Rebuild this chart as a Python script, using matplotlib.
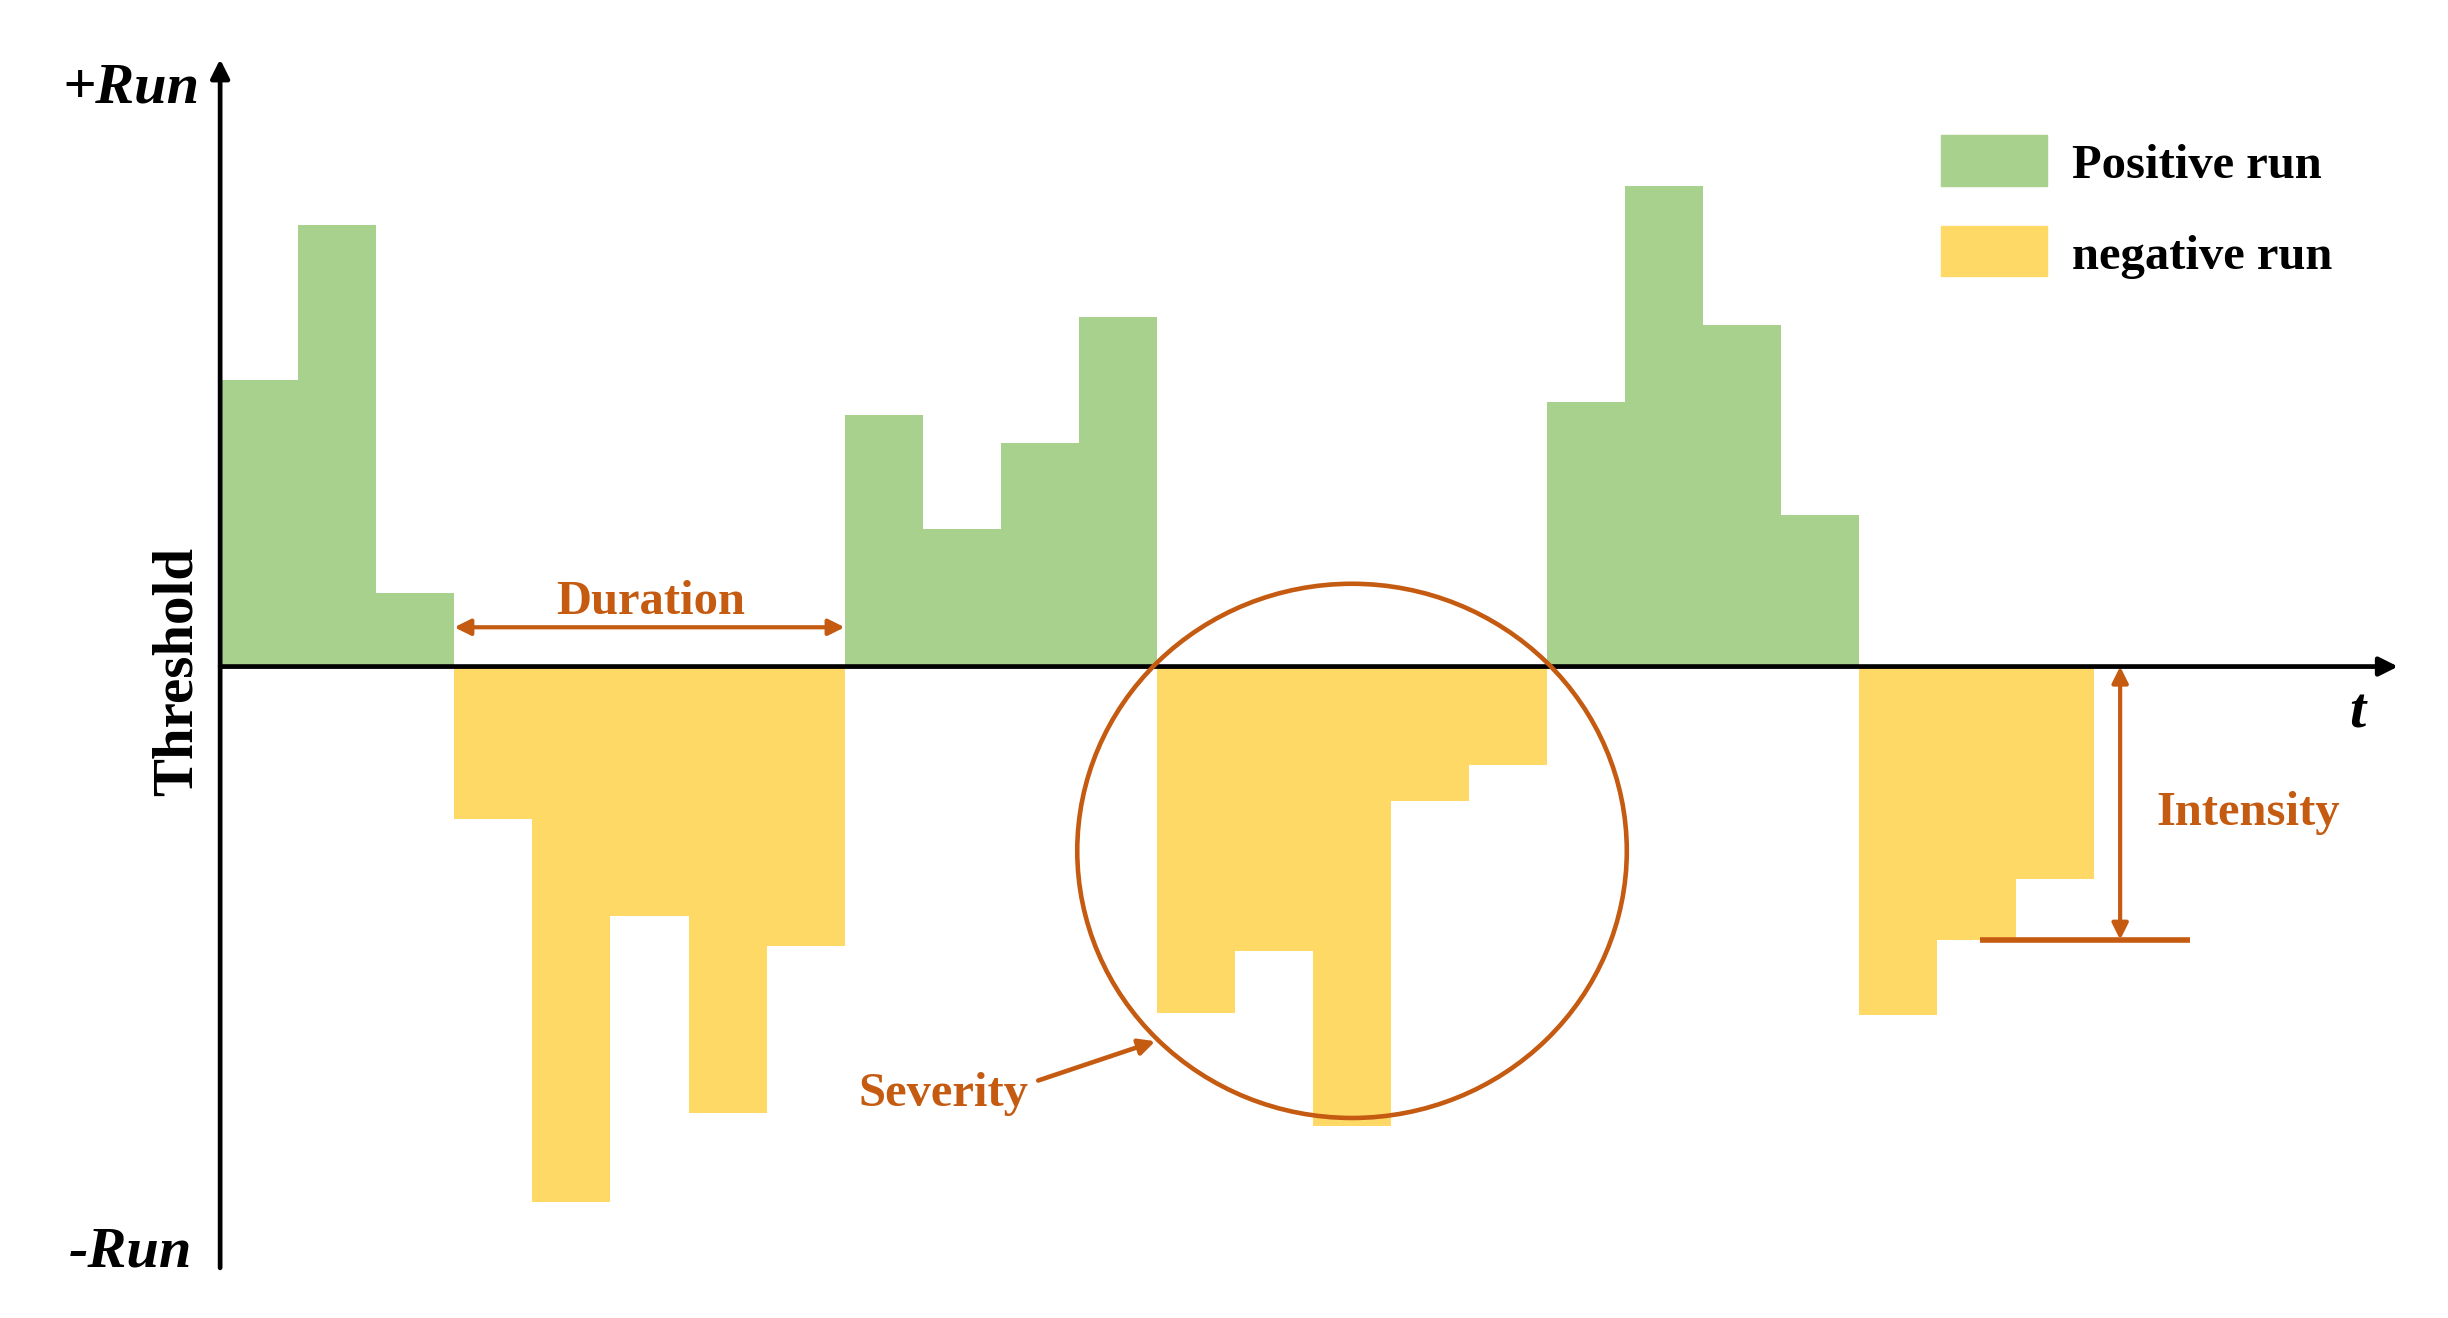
import matplotlib.pyplot as plt
from matplotlib.patches import Ellipse, Rectangle

# run values per time step (positive = above threshold, negative = below)
t_steps = list(range(24))
run_values = [4.75, 7.31, 1.21,
              -2.53, -8.86, -4.13, -7.39, -4.63,
              4.16, 2.27, 3.70, 5.79,
              -5.74, -4.70, -7.60, -2.22, -1.63,
              4.37, 7.96, 5.66, 2.51,
              -5.76, -4.52, -3.51]
legend_labels = ['Positive run', 'negative run']

green = '#A9D18E'
yellow = '#FFD966'
brown = '#C55A11'
serif = ['Liberation Serif', 'DejaVu Serif']

fig = plt.figure(figsize=(24.48, 13.18), dpi=100)
ax = fig.add_axes([0, 0, 1, 1])
ax.set_xlim(-2.82, 28.54)
ax.set_ylim(-10.78, 11.03)
ax.axis('off')

# bars
colors = [green if v > 0 else yellow for v in run_values]
ax.bar(t_steps, run_values, width=1.0, align='edge', color=colors, zorder=1)

# axes with arrows
ax.annotate('', xy=(0, 10.05), xytext=(0, -9.95),
            arrowprops=dict(arrowstyle='-|>', lw=3.4, color='black',
                            mutation_scale=28, shrinkA=0, shrinkB=0), zorder=3)
ax.annotate('', xy=(27.9, 0), xytext=(0, 0),
            arrowprops=dict(arrowstyle='-|>', lw=3.4, color='black',
                            mutation_scale=28, shrinkA=0, shrinkB=0), zorder=3)

ax.text(-0.26, 9.56, '+Run', ha='right', va='center', fontsize=42,
        family=serif, fontweight='bold', fontstyle='italic')
ax.text(-0.36, -9.69, '-Run', ha='right', va='center', fontsize=42,
        family=serif, fontweight='bold', fontstyle='italic')
ax.text(-0.55, -0.08, 'Threshold', ha='center', va='center', fontsize=41,
        family=serif, fontweight='bold', rotation=90)
ax.text(27.38, -0.78, 't', ha='center', va='center', fontsize=42,
        family=serif, fontweight='bold', fontstyle='italic')

# duration
ax.annotate('', xy=(8, 0.65), xytext=(3, 0.65),
            arrowprops=dict(arrowstyle='<|-|>', lw=3, color=brown,
                            mutation_scale=24, shrinkA=0, shrinkB=0))
ax.text(5.52, 1.06, 'Duration', ha='center', va='center', fontsize=35,
        family=serif, fontweight='bold', color=brown)

# severity
ax.add_patch(Ellipse((14.5, -3.05), 7.04, 8.84, fill=False, ec=brown, lw=3.3, zorder=4))
ax.annotate('', xy=(11.98, -6.2), xytext=(10.48, -6.85),
            arrowprops=dict(arrowstyle='-|>', lw=3.3, color=brown,
                            mutation_scale=24, shrinkA=0, shrinkB=0))
ax.text(9.26, -7.08, 'Severity', ha='center', va='center', fontsize=35,
        family=serif, fontweight='bold', color=brown)

# intensity
ax.annotate('', xy=(24.34, -4.52), xytext=(24.34, 0),
            arrowprops=dict(arrowstyle='<|-|>', lw=3, color=brown,
                            mutation_scale=24, shrinkA=0, shrinkB=0), zorder=4)
ax.plot([22.54, 25.24], [-4.52, -4.52], color=brown, lw=4, solid_capstyle='butt')
ax.text(25.98, -2.43, 'Intensity', ha='center', va='center', fontsize=35,
        family=serif, fontweight='bold', color=brown)

# legend
for i, (lab, col) in enumerate(zip(legend_labels, [green, yellow])):
    y0 = 7.96 - i * 1.5
    ax.add_patch(Rectangle((22.04, y0), 1.36, 0.83, color=col))
    ax.text(23.72, y0 + 0.12, lab, ha='left', va='baseline', fontsize=35,
            family=serif, fontweight='bold')

fig.savefig('out.png', dpi=100)
